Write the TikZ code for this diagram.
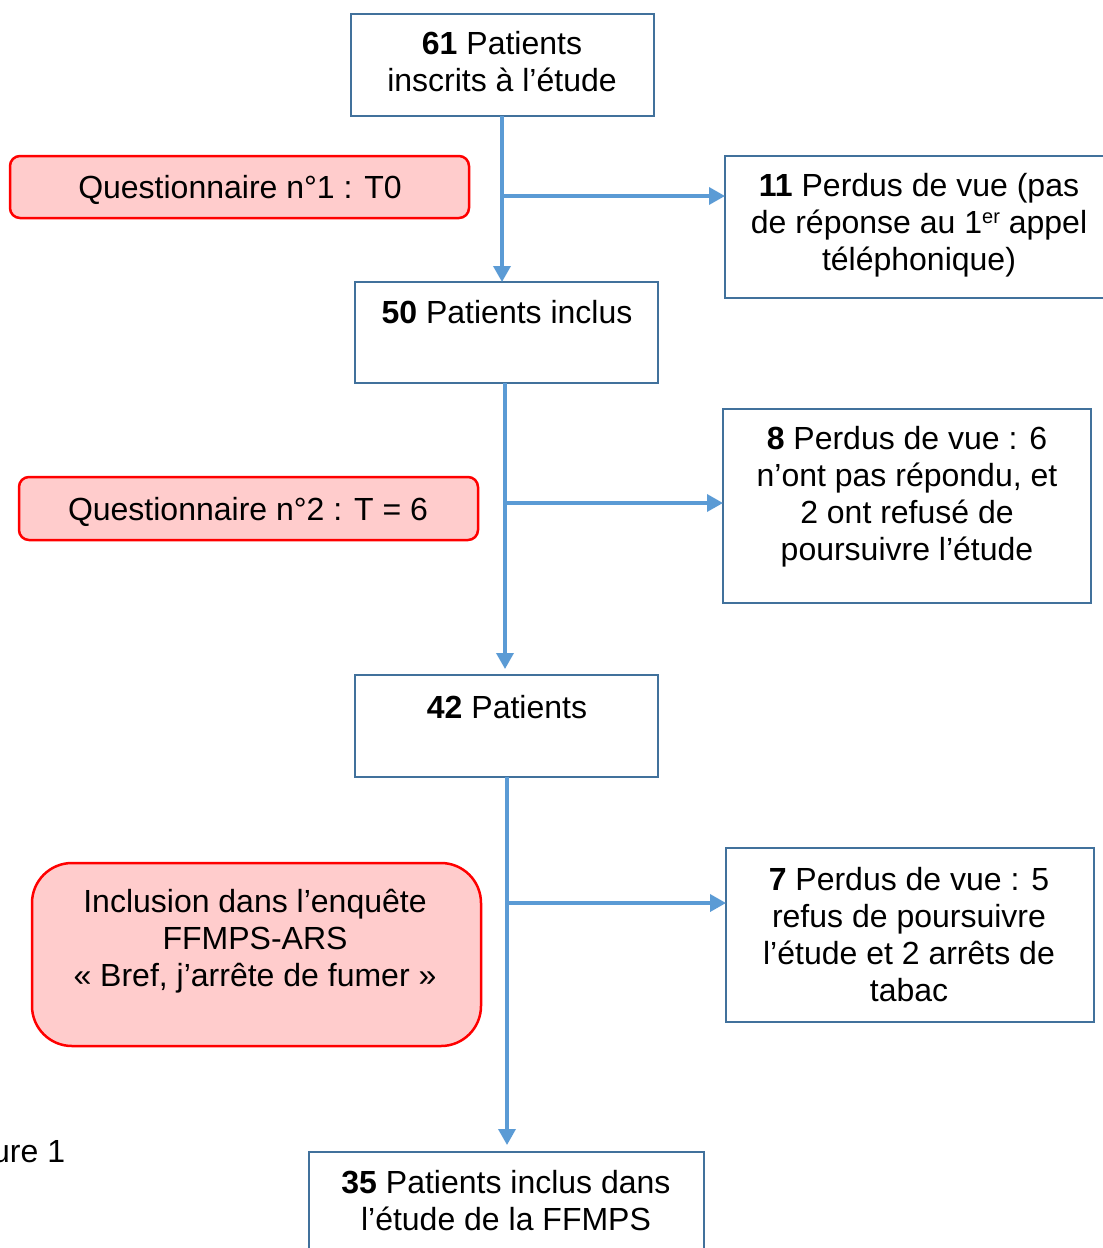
\documentclass[tikz,border=0pt]{standalone}
\usepackage{fontspec}
\setmainfont{Liberation Sans}
\usetikzlibrary{arrows.meta,calc}
\definecolor{boxblue}{HTML}{41719C}
\definecolor{arrblue}{HTML}{5B9BD5}
\definecolor{pinkfill}{HTML}{FFCCCC}
\definecolor{redline}{HTML}{FF0000}
\begin{document}
\begin{tikzpicture}[x=1pt,y=-1pt,
  bbox/.style={draw=boxblue, line width=2.5pt, fill=white, inner sep=0pt, outer sep=0pt, anchor=north west},
  rbox/.style={draw=redline, line width=2.5pt, fill=pinkfill, inner sep=0pt, outer sep=0pt, anchor=north west, rounded corners=10pt},
  txt/.style={font=\fontsize{32}{37}\selectfont, align=center, inner sep=0pt, text=black},
  arr/.style={draw=arrblue, line width=3.5pt, -{Triangle[length=16pt,width=17pt]}}]
\useasboundingbox (0,0) rectangle (1103,1248);
\clip (0,0) rectangle (1103,1248);
\fill[white] (0,0) rectangle (1103,1248);

% blue boxes
\node[bbox, minimum width=303pt, minimum height=102pt] (A) at (351,14) {};
\node[bbox, minimum width=390pt, minimum height=142pt] (B) at (725,156) {};
\node[bbox, minimum width=303pt, minimum height=101pt] (C) at (355,282) {};
\node[bbox, minimum width=368pt, minimum height=194pt] (D) at (723,409) {};
\node[bbox, minimum width=303pt, minimum height=102pt] (E) at (355,675) {};
\node[bbox, minimum width=368pt, minimum height=174pt] (F) at (726,848) {};
\node[bbox, minimum width=395pt, minimum height=110pt] (G) at (309,1152) {};

% red boxes
\node[rbox, minimum width=459pt, minimum height=62pt] (Q1) at (10,156) {};
\node[rbox, minimum width=459pt, minimum height=63pt] (Q2) at (19,477) {};
\node[rbox, rounded corners=40pt, minimum width=449pt, minimum height=183pt] (Q3) at (32,863) {};

% texts
\node[txt] (tA) at (502,62) {\textbf{61} Patients\\inscrits à l’étude};
\node[txt] (tB) at (919,225) {\textbf{11} Perdus de vue (pas\\de réponse au 1\raisebox{0.55ex}{\fontsize{20}{20}\selectfont er} appel\\téléphonique)};
\node[txt] (tC) at (507,312) {\textbf{50} Patients inclus};
\node[txt] (tD) at (907,497) {\textbf{8} Perdus de vue : 6\\n’ont pas répondu, et\\2 ont refusé de\\poursuivre l’étude};
\node[txt] (tE) at (507,707) {\textbf{42} Patients};
\node[txt] (tF) at (909,935) {\textbf{7} Perdus de vue : 5\\refus de poursuivre\\l’étude et 2 arrêts de\\tabac};
\node[txt] (tG) at (506,1201) {\textbf{35} Patients inclus dans\\l’étude de la FFMPS};
\node[txt] (tQ1) at (240,190) {Questionnaire n°1 : T0};
\node[txt] (tQ2) at (248,512) {Questionnaire n°2 : T = 6};
\node[txt] (tQ3) at (255,941) {Inclusion dans l’enquête\\FFMPS-ARS\\« Bref, j’arrête de fumer »};
\node[txt, anchor=west] (fig) at (-8,1152) {ure 1};

% connectors
\coordinate (a0) at (502,116);
\coordinate (a1) at (502,282);
\coordinate (j1) at (502,196);
\draw[arr] (a0) -- (a1);
\draw[arr] (j1) -- (j1 -| B.west);

\coordinate (c0) at (505,383);
\coordinate (c1) at (505,669);
\coordinate (j2) at (505,503);
\draw[arr] (c0) -- (c1);
\draw[arr] (j2) -- (j2 -| D.west);

\coordinate (e0) at (507,777);
\coordinate (e1) at (507,1145);
\coordinate (j3) at (507,903);
\draw[arr] (e0) -- (e1);
\draw[arr] (j3) -- (j3 -| F.west);
\end{tikzpicture}
\end{document}
